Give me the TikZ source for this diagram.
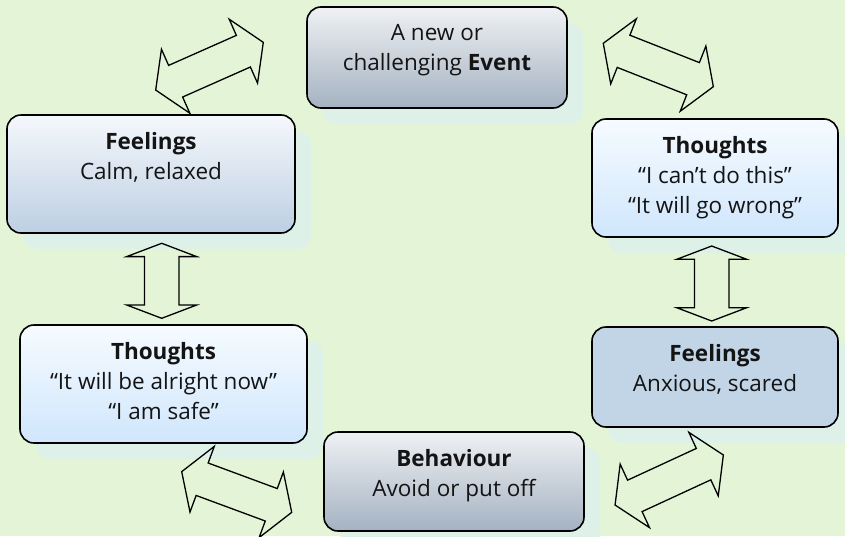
\documentclass[tikz,border=0pt]{standalone}
\usepackage{fontspec}
\setmainfont{Open Sans}
\usetikzlibrary{shadows}

\definecolor{paper}{RGB}{228,245,215}
\definecolor{shadowtint}{RGB}{221,241,232}
\definecolor{steeltop}{RGB}{239,241,244}
\definecolor{steelbot}{RGB}{164,178,193}
\definecolor{misttop}{RGB}{245,248,252}
\definecolor{mistbot}{RGB}{189,207,227}
\definecolor{skytop}{RGB}{246,251,255}
\definecolor{skybot}{RGB}{208,230,252}
\definecolor{calmblue}{RGB}{194,213,231}
\definecolor{ink}{RGB}{20,20,20}

% text of a card, top aligned
\newcommand{\cardtext}[2]{\parbox[c][#1][t]{240pt}{\centering #2}}
% two-way block arrow: centre, angle, length, head length
\newcommand{\twoway}[4]{%
  \draw[twowayline, shift={(#1)}, rotate=#2]
    (-#3/2,0) -- (-#3/2+#4,35) -- (-#3/2+#4,17.3) -- (#3/2-#4,17.3)
    -- (#3/2-#4,35) -- (#3/2,0) -- (#3/2-#4,-35) -- (#3/2-#4,-17.3)
    -- (-#3/2+#4,-17.3) -- (-#3/2+#4,-35) -- cycle;}

\tikzset{
  card/.style={draw=black, line width=1.6pt, rounded corners=14pt,
    inner xsep=0pt, inner ysep=17pt, text=ink,
    font=\fontsize{22.5}{30}\selectfont,
    drop shadow={shadow xshift=16pt, shadow yshift=-16pt, fill=shadowtint, opacity=1}},
  steelcard/.style={card, top color=steeltop, bottom color=steelbot},
  mistcard/.style={card, top color=misttop, bottom color=mistbot},
  skycard/.style={card, top color=skytop, bottom color=skybot},
  calmcard/.style={card, fill=calmblue},
  twowayline/.style={draw=black, line width=1.3pt, line join=miter}
}

\begin{document}
\begin{tikzpicture}[x=1pt, y=-1pt]
	\useasboundingbox (0,0) rectangle (845,536);
	\clip (0,0) rectangle (845,536);
	\fill[paper] (0,0) rectangle (845,536);

	\node[steelcard, minimum width=260pt, minimum height=101pt] (event) at (437,57.5)
		{\cardtext{67pt}{A new or\\challenging \textbf{Event}}};
	\node[mistcard, minimum width=288pt, minimum height=118pt] (feelcalm) at (151,174)
		{\cardtext{84pt}{\textbf{Feelings}\\Calm, relaxed}};
	\node[skycard, minimum width=246pt, minimum height=118pt] (thinkbad) at (715,178)
		{\cardtext{84pt}{\textbf{Thoughts}\\“I can’t do this”\\“It will go wrong”}};
	\node[skycard, minimum width=287pt, minimum height=118pt] (thinkgood) at (163.5,384)
		{\cardtext{84pt}{\textbf{Thoughts}\\“It will be alright now”\\“I am safe”}};
	\node[calmcard, minimum width=246pt, minimum height=100pt] (feelscared) at (715,377)
		{\cardtext{66pt}{\textbf{Feelings}\\Anxious, scared}};
	\node[steelcard, minimum width=260pt, minimum height=99pt] (behave) at (454,481.5)
		{\cardtext{65pt}{\textbf{Behaviour}\\Avoid or put off}};

	\twoway{209.5,66.2}{23.9}{117.7}{21.8}
	\twoway{658.3,65}{-21.5}{118.3}{21.8}
	\twoway{161.7,280.8}{90}{75}{13.3}
	\twoway{711.7,283.5}{90}{75}{13.3}
	\twoway{236.7,492}{-20.3}{117.3}{21.8}
	\twoway{669.2,480}{24.8}{119.3}{21.8}
\end{tikzpicture}
\end{document}
